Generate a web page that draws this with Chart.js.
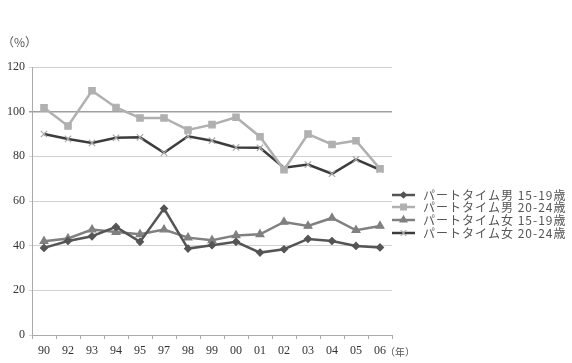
<!DOCTYPE html>
<html>
<head>
<script src="https://cdn.jsdelivr.net/npm/chart.js@4.4.0/dist/chart.umd.min.js"></script>
<style>
  body { margin: 0; background: #fff; }
  .wrap { width: 572px; height: 363px; }
</style>
</head>
<body>
<div class="wrap"><canvas id="c" width="572" height="363"></canvas></div>
<script>
const years = ['90','92','93','94','95','97','98','99','00','01','02','03','04','05','06'];
const male1519   = [39, 42.1, 44.2, 48.4, 41.7, 56.6, 38.7, 40.2, 41.7, 36.9, 38.4, 43, 42.1, 39.9, 39.2];
const male2024   = [101.7, 93.6, 109.4, 101.9, 97.2, 97.2, 91.8, 94.2, 97.5, 88.8, 74, 90, 85.3, 87, 74.4];
const female1519 = [42, 43.2, 47.2, 46.1, 45.1, 47.2, 43.6, 42.4, 44.6, 45.1, 50.6, 48.8, 52.4, 46.9, 48.8];
const female2024 = [90, 87.8, 86, 88.3, 88.5, 81.6, 89, 87, 84, 83.8, 74.9, 76.3, 72.2, 78.6, 74];
const names = ['パートタイム男 15-19歳','パートタイム男 20-24歳','パートタイム女 15-19歳','パートタイム女 20-24歳'];

const serif = '"Liberation Serif", "DejaVu Serif", serif';
const jp = '"Noto Sans CJK JP", sans-serif';

function ds(label, data, color, style, radius, ptColor) {
  return {
    label, data,
    borderColor: color, backgroundColor: ptColor || color,
    pointBorderColor: ptColor || color, pointBackgroundColor: ptColor || color,
    borderWidth: 2.5, pointStyle: style, pointRadius: radius, pointBorderWidth: 1.2,
    tension: 0
  };
}

const extras = {
  id: 'extras',
  afterDraw(chart) {
    const c = chart.ctx;
    c.save();
    c.fillStyle = '#555';
    c.font = '12px ' + jp;
    c.textBaseline = 'middle';
    c.fillText('（%）', 2, 42);
    c.font = '10px ' + jp;
    c.fillText('（年）', 385, 352);
    // legend
    const rows = [195, 207, 220, 233];
    chart.data.datasets.forEach((d, i) => {
      const y = rows[i];
      c.strokeStyle = d.borderColor;
      c.lineWidth = 2.5;
      c.beginPath(); c.moveTo(392, y); c.lineTo(415, y); c.stroke();
      c.fillStyle = d.pointBackgroundColor;
      c.strokeStyle = d.pointBorderColor;
      c.lineWidth = 1.2;
      Chart.helpers.drawPoint(c, {pointStyle: d.pointStyle, radius: d.pointRadius - 0.5, borderWidth: 1.2}, 403.5, y);
      c.fillStyle = '#555';
      c.font = '12px ' + jp;
      c.letterSpacing = '1px';
      c.fillText(d.label, 423, y);
      c.letterSpacing = '0px';
    });
    c.restore();
  }
};

new Chart(document.getElementById('c'), {
  type: 'line',
  data: {
    labels: years,
    datasets: [
      ds(names[0], male1519, '#555555', 'rectRot', 3.5),
      ds(names[1], male2024, '#b0b0b0', 'rect', 4.5),
      ds(names[2], female1519, '#808080', 'triangle', 4.5),
      ds(names[3], female2024, '#3c3c3c', 'crossRot', 4.5, '#a8a8a8')
    ]
  },
  options: {
    responsive: false,
    animation: false,
    layout: { padding: { top: 67, right: 180, left: 0, bottom: 0 } },
    plugins: { legend: { display: false }, tooltip: { enabled: false } },
    scales: {
      x: {
        offset: true,
        grid: { offset: true, drawOnChartArea: false, drawTicks: true, tickLength: 4, color: '#aaa' },
        border: { color: '#aaa' },
        ticks: { color: '#333', font: { family: serif, size: 12 }, padding: 5, maxRotation: 0, autoSkip: false },
        afterFit(s) { s.height = 28; }
      },
      y: {
        min: 0, max: 120,
        ticks: { stepSize: 20, color: '#333', font: { family: serif, size: 12 }, padding: 4 },
        grid: {
          tickLength: 3,
          color: ctx => ctx.tick && ctx.tick.value === 100 ? '#a0a0a0' : '#d0d0d0',
          lineWidth: ctx => ctx.tick && ctx.tick.value === 100 ? 1.5 : 1
        },
        border: { color: '#aaa' },
        afterFit(s) { s.width = 32; }
      }
    }
  },
  plugins: [extras]
});
</script>
</body>
</html>
